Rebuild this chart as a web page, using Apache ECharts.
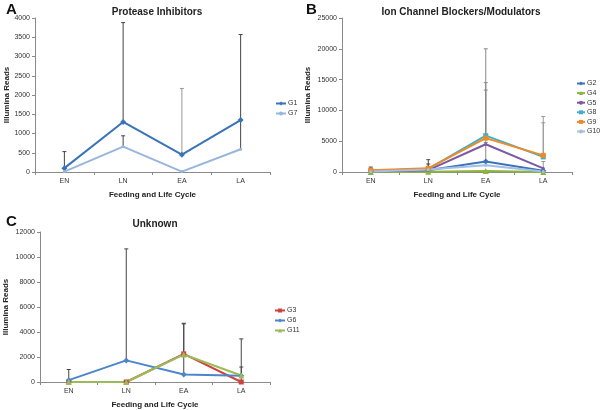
<!DOCTYPE html>
<html><head><meta charset="utf-8">
<script src="https://cdn.jsdelivr.net/npm/echarts@6/dist/echarts.min.js"></script>
<style>html,body{margin:0;padding:0;background:#fff}#c{width:600px;height:410px}</style>
</head><body><div id="c"></div>
<script>
const categories = ['EN','LN','EA','LA'];
// Panel A: Protease Inhibitors
const A_G1 = [100, 1300, 450, 1350];
const A_G7 = [10, 660, 10, 590];
const A_err = [[0,100,530,'#444'],[1,1300,3880,'#444'],[1,660,940,'#444'],[2,450,2170,'#999'],[3,590,3570,'#444']];
// Panel B: Ion Channel Blockers/Modulators
const B_G2 = [100, 300, 1700, 200];
const B_G4 = [0, 50, 150, 0];
const B_G5 = [100, 300, 4500, 600];
const B_G8 = [200, 500, 5900, 2450];
const B_G9 = [300, 600, 5500, 2700];
const B_G10 = [100, 400, 1100, 100];
const B_err = [[0,300,800,'#444'],[1,600,2000,'#444'],[1,500,1300,'#444'],[2,5900,20000,'#888'],[2,5500,14500,'#888'],[2,4500,13300,'#888'],[2,1700,4800,'#888'],[3,2700,9000,'#999'],[3,2450,8000,'#999'],[3,600,1700,'#999']];
// Panel C: Unknown
const C_G3 = [0, 0, 2250, 0];
const C_G6 = [150, 1730, 600, 500];
const C_G11 = [0, 0, 2200, 520];
const C_err = [[0,150,1000,'#444'],[1,1730,10650,'#444'],[2,2250,4700,'#444'],[2,600,4650,'#444'],[3,500,3450,'#444'],[3,0,1200,'#444']];

const axisCol = '#8a8a8a';
const lblStyle = {fontSize: 7, color: '#333', fontFamily: 'Liberation Sans'};
function xAxis(gi){
  return {type:'category', gridIndex:gi, data:categories, boundaryGap:true,
    axisLine:{lineStyle:{color:axisCol}}, axisTick:{show:true, length:3, lineStyle:{color:axisCol}},
    axisLabel:Object.assign({margin:6}, lblStyle),
    name:'Feeding and Life Cycle', nameLocation:'middle', nameGap:19,
    nameTextStyle:{fontSize:8, fontWeight:'bold', color:'#222', fontFamily:'Liberation Sans'}};
}
function yAxis(gi,max,interval,gap){
  return {type:'value', gridIndex:gi, min:0, max:max, interval:interval,
    axisLine:{show:true, lineStyle:{color:axisCol}}, axisTick:{show:true, length:3, lineStyle:{color:axisCol}},
    splitLine:{show:false}, axisLabel:Object.assign({margin:5, formatter:function(v){return String(v);}}, lblStyle),
    name:'Illumina Reads', nameLocation:'middle', nameGap:gap,
    nameTextStyle:{fontSize:8, fontWeight:'bold', color:'#222', fontFamily:'Liberation Sans'}};
}
function lineS(name, gi, data, color, symbol, size){
  return {type:'line', name:name, xAxisIndex:gi, yAxisIndex:gi, data:data,
    lineStyle:{color:color, width:2}, itemStyle:{color:color},
    symbol:symbol, symbolSize:size||5, z:3};
}
function errS(gi, data){
  return {type:'custom', xAxisIndex:gi, yAxisIndex:gi, data:data, z:2, silent:true,
    encode:{x:0, y:[1,2]},
    renderItem:function(params, api){
      const lo = api.coord([api.value(0), api.value(1)]);
      const hi = api.coord([api.value(0), api.value(2)]);
      const col = data[params.dataIndex][3];
      return {type:'group', children:[
        {type:'line', shape:{x1:lo[0], y1:lo[1], x2:hi[0], y2:hi[1]}, style:{stroke:col, lineWidth:1}},
        {type:'line', shape:{x1:hi[0]-2, y1:hi[1], x2:hi[0]+2, y2:hi[1]}, style:{stroke:col, lineWidth:1}}
      ]};
    }};
}
const legendBase = {orient:'vertical', itemWidth:10, itemHeight:5, itemGap:3, padding:0,
  textStyle:{fontSize:7, color:'#333', fontFamily:'Liberation Sans', padding:[0,0,0,-3]}};
const titleStyle = {fontSize:10, fontWeight:'bold', color:'#222', fontFamily:'Liberation Sans'};
const letterStyle = {fontSize:15, fontWeight:'bold', color:'#111', fontFamily:'Liberation Sans'};

const chart = echarts.init(document.getElementById('c'), null, {renderer:'canvas'});
chart.setOption({
  animation:false,
  backgroundColor:'#fff',
  title:[
    {text:'Protease Inhibitors', left:152, top:2, textAlign:'center', textStyle:titleStyle},
    {text:'Ion Channel Blockers/Modulators', left:456, top:2, textAlign:'center', textStyle:titleStyle},
    {text:'Unknown', left:150, top:214, textAlign:'center', textStyle:titleStyle},
    {text:'A', left:1, top:-3, textStyle:letterStyle},
    {text:'B', left:301, top:-3, textStyle:letterStyle},
    {text:'C', left:1, top:209, textStyle:letterStyle}
  ],
  grid:[
    {left:35, top:18, width:235, height:154},
    {left:342, top:18, width:230, height:154},
    {left:40, top:232, width:230, height:153}
  ],
  xAxis:[xAxis(0), xAxis(1), xAxis(2)],
  yAxis:[yAxis(0,4000,500,24), yAxis(1,25000,5000,30), yAxis(2,12000,2000,30)],
  legend:[
    Object.assign({}, legendBase, {left:275, top:100, data:['G1','G7']}),
    Object.assign({}, legendBase, {left:576, top:80, data:['G2','G4','G5','G8','G9','G10'], itemWidth:8, itemGap:2.6}),
    Object.assign({}, legendBase, {left:274, top:307, data:['G3','G6','G11'], itemGap:3})
  ],
  series:[
    errS(0, A_err),
    lineS('G1',0,A_G1,'#3a73b8','diamond',6),
    lineS('G7',0,A_G7,'#98b6dc','circle',3),
    errS(1, B_err),
    lineS('G2',1,B_G2,'#3b74bb','diamond',6),
    lineS('G4',1,B_G4,'#8db43f','triangle',6),
    lineS('G5',1,B_G5,'#7b5aa3','circle',3),
    lineS('G8',1,B_G8,'#3fb0cc','rect',5),
    lineS('G9',1,B_G9,'#f08a24','rect',5),
    lineS('G10',1,B_G10,'#a4bfe3','circle',3),
    errS(2, C_err),
    lineS('G3',2,C_G3,'#d0413d','rect',5),
    lineS('G6',2,C_G6,'#4a86c9','diamond',6),
    lineS('G11',2,C_G11,'#9bbb59','triangle',6)
  ]
});
</script></body></html>
